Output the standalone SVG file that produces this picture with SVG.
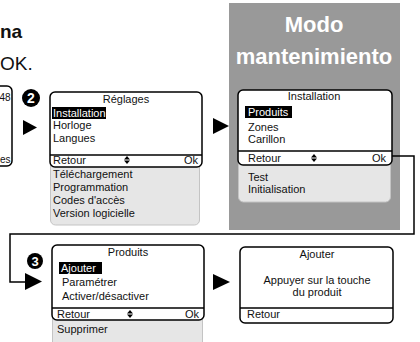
<svg xmlns="http://www.w3.org/2000/svg" xmlns:xlink="http://www.w3.org/1999/xlink" width="420" height="342" viewBox="0 0 420 342">
<style>
text{font-family:"Liberation Sans",Arial,sans-serif;font-size:11px;fill:#111}
.scr{fill:#fff;stroke:#000;stroke-width:1.5}
.sub{fill:#e6e6e6;stroke:#c4c4c4;stroke-width:1}
.sep{stroke:#000;stroke-width:1.5}
.hl{fill:#000}
.w{fill:#fff}
.c{text-anchor:middle}
.e{text-anchor:end}
.tri{fill:#000}
.num{font-weight:bold;font-size:14px;fill:#fff;text-anchor:middle}
.conn{fill:none;stroke:#000;stroke-width:1.5}
</style>
<defs>
<path id="ud" d="M0,-4 L-3,-0.6 L3,-0.6 Z M0,4 L-3,0.6 L3,0.6 Z" fill="#000"/>
</defs>

<g id="title">
<text x="0" y="38" style="font-weight:bold;font-size:19px">na</text>
<text x="0" y="70" style="font-size:19px">OK.</text>
</g>

<g id="panel">
<rect x="229" y="3" width="171" height="227" fill="#999"/>
<text x="314" y="32" class="c" style="font-weight:bold;font-size:22px;fill:#fff">Modo</text>
<text x="314" y="64" class="c" style="font-weight:bold;font-size:22px;fill:#fff">mantenimiento</text>
</g>

<g id="prev">
<rect x="-20" y="86" width="32" height="80" rx="5" class="scr"/>
<text x="10.5" y="101" class="e" style="font-size:10px">48</text>
<text x="10.5" y="163" class="e" style="font-size:10px">es</text>
</g>

<g id="step2">
<circle cx="31" cy="98" r="9" fill="#000"/>
<text x="31" y="103" class="num">2</text>
</g>

<g id="reglages">
<rect x="50.5" y="150" width="149" height="75" rx="5" class="sub"/>
<rect x="50" y="92" width="152" height="75" rx="5" class="scr"/>
<line x1="50" y1="155" x2="202" y2="155" class="sep"/>
<text x="126" y="103" class="c">Réglages</text>
<rect x="52" y="107" width="54" height="12" class="hl"/>
<text x="53" y="116.5" class="w">Installation</text>
<text x="53" y="129">Horloge</text>
<text x="53" y="142">Langues</text>
<text x="53" y="164">Retour</text>
<use xlink:href="#ud" x="127" y="160"/>
<text x="198" y="164" class="e">Ok</text>
<text x="53" y="178">Téléchargement</text>
<text x="53" y="191">Programmation</text>
<text x="53" y="204">Codes d'accès</text>
<text x="53" y="217">Version logicielle</text>
</g>

<g id="installation">
<rect x="238.5" y="150" width="152" height="52" rx="5" class="sub"/>
<rect x="238" y="90" width="154" height="75" rx="5" class="scr"/>
<line x1="238" y1="151" x2="392" y2="151" class="sep"/>
<text x="314" y="100" class="c">Installation</text>
<rect x="245" y="106" width="47" height="12" class="hl"/>
<text x="248" y="116" class="w">Produits</text>
<text x="248" y="131">Zones</text>
<text x="248" y="143">Carillon</text>
<text x="248" y="162">Retour</text>
<use xlink:href="#ud" x="314" y="158"/>
<text x="386" y="162" class="e">Ok</text>
<text x="248" y="181">Test</text>
<text x="248" y="193">Initialisation</text>
</g>

<g id="step3">
<circle cx="35" cy="261" r="8" fill="#000"/>
<text x="35" y="266" class="num" style="font-size:13px">3</text>
</g>

<g id="produits">
<rect x="52.5" y="300" width="150" height="50" rx="5" class="sub"/>
<rect x="52" y="245" width="152" height="75" rx="5" class="scr"/>
<line x1="52" y1="308" x2="204" y2="308" class="sep"/>
<text x="128" y="256" class="c">Produits</text>
<rect x="59" y="262" width="43" height="12" class="hl"/>
<text x="61" y="272" class="w">Ajouter</text>
<text x="62" y="286">Paramétrer</text>
<text x="62" y="300">Activer/désactiver</text>
<text x="57" y="318">Retour</text>
<use xlink:href="#ud" x="130" y="314"/>
<text x="199" y="318" class="e">Ok</text>
<text x="57" y="333">Supprimer</text>
</g>

<g id="ajouter">
<rect x="240" y="247" width="153" height="76" rx="5" class="scr"/>
<line x1="240" y1="308" x2="393" y2="308" class="sep"/>
<text x="317" y="258" class="c">Ajouter</text>
<text x="317" y="284" class="c">Appuyer sur la touche</text>
<text x="317" y="296" class="c">du produit</text>
<text x="247" y="318">Retour</text>
</g>

<g id="connectors">
<polygon points="23,120 37,127.5 23,135" class="tri"/>
<polygon points="213,118 229,126 213,134" class="tri"/>
<path d="M392,156 H414 V234 H10 V282 H26" class="conn"/>
<polygon points="25,273 42,281.5 25,290" class="tri"/>
<polygon points="213,274 230,282 213,290" class="tri"/>
</g>
</svg>
